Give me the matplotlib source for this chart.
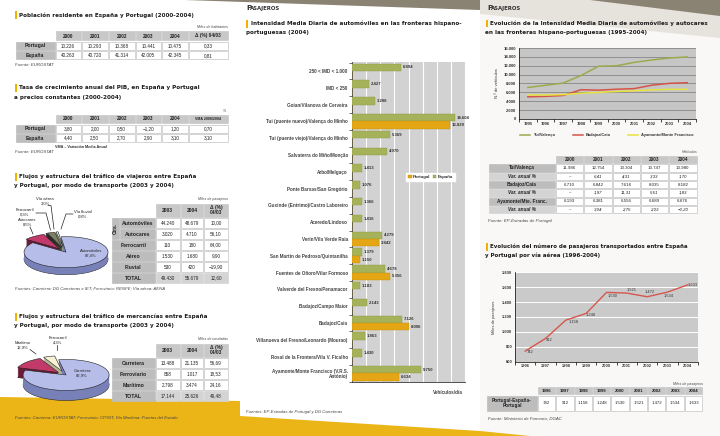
import numpy as np
import matplotlib.pyplot as plt
from matplotlib.patches import Rectangle, Polygon
from matplotlib.ticker import FuncFormatter

plt.rcParams['font.family'] = ['Liberation Sans', 'DejaVu Sans']

W, H = 720, 436

# ---------------- datos ----------------
anios_pob = ['2000', '2001', '2002', '2003', '2004']
pob_portugal = [10226, 10293, 10368, 10441, 10475]
pob_espana = [40263, 40720, 41314, 42005, 42345]
pob_var = [0.33, 0.81]

pib_portugal = [3.80, 2.00, 0.50, -1.20, 1.20]
pib_espana = [4.40, 2.50, 2.70, 2.90, 3.10]
pib_vma = [0.70, 3.10]

viaj_modos = ['Automóviles', 'Autocares', 'Ferrocarril', 'Aéreo', 'Fluvial']
viaj_2003 = [44240, 3020, 110, 1530, 530]
viaj_2004 = [48679, 4710, 180, 1680, 420]
viaj_var = [10.00, 56.10, 64.00, 9.90, -19.90]
viaj_total = [49430, 55679, 12.60]
viaj_pie_lab = ['Automóviles', 'Autocares', 'Ferrocarril', 'Vía aérea', 'Vía fluvial']
viaj_pie_pct = [87.4, 8.5, 0.3, 3.0, 0.8]

merc_modos = ['Carretera', 'Ferroviario', 'Marítimo']
merc_2003 = [13488, 858, 2798]
merc_2004 = [21135, 1017, 3474]
merc_var = [56.69, 18.53, 24.16]
merc_total = [17144, 25626, 49.48]
merc_pie_lab = ['Carretera', 'Marítimo', 'Ferrocarril']
merc_pie_pct = [82.9, 12.9, 4.3]

imd_pasos = ['250 < IMD < 1.000', 'IMD < 250', 'Goian/Vilanova de Cerveira',
             'Tui (puente nuevo)/Valença do Minho', 'Tui (puente viejo)/Valença do Minho',
             'Salvaterra do Miño/Monção', 'Arbo/Melgaço', 'Ponte Barxas/San Gregório',
             'Guxinde (Entrimo)/Castro Laboreiro', 'Aceredo/Lindoso', 'Verín/Vila Verde Raia',
             'San Martín de Pedroso/Quintanilha', 'Fuentes de Oñoro/Vilar Formoso',
             'Valverde del Fresno/Penamacor', 'Badajoz/Campo Maior', 'Badajoz/Caia',
             'Villanueva del Fresno/Leonardo (Mourao)', 'Rosal de la Frontera/Vila V. Ficalho',
             'Ayamonte/Monte Francisco (V.R.S.\nAntónio)']
imd_espana = [6894, 2427, 3208, 14604, 5369, 4970, 1413, 1076, 1366, 1416, 4279, 1379,
              4678, 1183, 2143, 7126, 1863, 1430, 9750]
imd_portugal = [0, 0, 0, 13829, 0, 0, 0, 0, 0, 0, 3842, 1150, 5356, 0, 0, 8096, 0, 0, 6634]

evo_anios = ['1995', '1996', '1997', '1998', '1999', '2000', '2001', '2002', '2003', '2004']
evo_tui = [7100, 7600, 8100, 9800, 11900, 11986, 12754, 13304, 13747, 13980]
evo_badajoz = [5000, 5100, 5300, 6600, 6500, 6710, 6842, 7616, 8035, 8182]
evo_ayamonte = [5400, 5400, 5500, 5800, 6000, 6193, 6381, 6556, 6689, 6676]

tab_anios = ['2000', '2001', '2002', '2003', '2004']
tab_tui_var = [None, 6.41, 4.31, 3.33, 1.70]
tab_bad_var = [None, 1.97, 11.31, 5.51, 1.83]
tab_aya_var = [None, 3.04, 2.75, 2.03, -0.20]

aer_anios = ['1996', '1997', '1998', '1999', '2000', '2001', '2002', '2003', '2004']
aer_pasajeros = [742, 912, 1158, 1248, 1530, 1521, 1472, 1534, 1633]


def es(v, dec=0):
    if v is None:
        return '–'
    s = f'{abs(v):,.{dec}f}'.replace(',', 'X').replace('.', ',').replace('X', '.')
    return ('−' if v < 0 else '') + s


fig = plt.figure(figsize=(7.2, 4.36), dpi=100)
bg = fig.add_axes([0, 0, 1, 1], zorder=0)
bg.set_xlim(0, W); bg.set_ylim(H, 0); bg.axis('off')
ov = fig.add_axes([0, 0, 1, 1], zorder=5)
ov.set_xlim(0, W); ov.set_ylim(H, 0); ov.axis('off')
ov.patch.set_alpha(0)
rend = fig.canvas.get_renderer()


def px_axes(x0, y0, x1, y1, z=2):
    return fig.add_axes([x0 / W, 1 - y1 / H, (x1 - x0) / W, (y1 - y0) / H], zorder=z)


# decoracion de fondo
bg.add_patch(Rectangle((480, 0), 240, 436, color='#f9f8f6', lw=0))
bg.add_patch(Polygon([(480, 0), (720, 0), (720, 38), (480, 14)], color='#e6e3dc', lw=0))
bg.add_patch(Polygon([(185, 0), (480, 0), (480, 10)], color='#8a8272', lw=0))
bg.add_patch(Polygon([(590, 0), (720, 0), (720, 16)], color='#8a8272', lw=0))
bg.add_patch(Polygon([(0, 397), (240, 401), (240, 436), (0, 436)], color='#ebb417', lw=0))
bg.add_patch(Polygon([(240, 416), (480, 431), (530, 436), (240, 436)], color='#ebb417', lw=0))
bg.add_patch(Polygon([(480, 432), (520, 436), (480, 436)], color='#ebb417', lw=0))


def titulo(x, y, lineas, ancho):
    ov.add_patch(Rectangle((x - 4.5, y - 3.5), 2, 7.5, color='#f0b400', lw=0))
    t = ov.text(x, y, lineas[0], fontsize=4.5, fontweight='bold', family='DejaVu Sans',
                va='center', color='#1c1c1c')
    fs = 4.5 * ancho / t.get_window_extent(rend).width
    t.set_fontsize(fs)
    for i, s in enumerate(lineas[1:]):
        ov.text(x - 5, y + 9 * (i + 1), s, fontsize=fs, fontweight='bold',
                family='DejaVu Sans', va='center', color='#1c1c1c')


def pasajeros(x, y):
    ov.text(x, y, 'P', fontsize=5.2, fontweight='bold', family='DejaVu Sans', va='center', color='#333')
    ov.text(x + 4.3, y + 0.3, 'ASAJEROS', fontsize=3.9, fontweight='bold', family='DejaVu Sans',
            va='center', color='#333')


def nota(x, y, s, ha='left', fs=3.2):
    ov.text(x, y, s, fontsize=fs, style='italic', ha=ha, va='center', color='#444')


ESTILOS = {'head': ('#c8c8c8', '#c8c8c8'), 'lab': ('#bdbdbd', '#bdbdbd'),
           'lab2': ('#d4d4d4', '#d4d4d4'), 'dat': ('white', '#c4c4c4')}


def celda(x0, y0, x1, y1, txt, kind='dat', fs=3.3, bold=False, italic=False):
    fc, ec = ESTILOS[kind]
    ov.add_patch(Rectangle((x0 + 0.5, y0 + 0.5), x1 - x0 - 1, y1 - y0 - 1, fc=fc, ec=ec, lw=0.5))
    ov.text((x0 + x1) / 2, (y0 + y1) / 2, txt, ha='center', va='center', fontsize=fs,
            fontweight='bold' if bold else 'normal', style='italic' if italic else 'normal',
            color='#222', linespacing=1.0)


# ---------- panel 1: poblacion ----------
titulo(19, 15, ['Población residente en España y Portugal (2000-2004)'], 171)
nota(228, 27, 'Miles de habitantes', ha='right', fs=2.6)
cols = [55, 81.3, 108.3, 135, 161.7, 188.3, 228.3]
heads = anios_pob + ['Δ (%) 04/03']
rows = [(31, 41), (41.5, 50.5), (50.8, 59.8)]
for i in range(6):
    celda(cols[i], rows[0][0], cols[i + 1], rows[0][1], heads[i], 'head', fs=3.4, bold=True)
for r, (nom, vals, var) in enumerate([('Portugal', pob_portugal, pob_var[0]),
                                       ('España', pob_espana, pob_var[1])]):
    y0, y1 = rows[r + 1]
    celda(15, y0, 55, y1, nom, 'lab', fs=3.7, bold=True)
    for i, v in enumerate(vals):
        celda(cols[i], y0, cols[i + 1], y1, es(v))
    celda(cols[5], y0, cols[6], y1, es(var, 2))
nota(15, 65, 'Fuente: EUROSTAT')

# ---------- panel 2: PIB ----------
titulo(19, 88, ['Tasa de crecimiento anual del PIB, en España y Portugal',
                'a precios constantes (2000-2004)'], 178)
nota(226, 111, '%', ha='right', fs=2.6)
rows = [(114.3, 123.6), (124, 133), (133.5, 142.7)]
heads = anios_pob + ['VMA 2000/2004']
for i in range(6):
    celda(cols[i], rows[0][0], cols[i + 1], rows[0][1], heads[i], 'head',
          fs=3.4 if i < 5 else 2.6, bold=True)
for r, (nom, vals, vma) in enumerate([('Portugal', pib_portugal, pib_vma[0]),
                                       ('España', pib_espana, pib_vma[1])]):
    y0, y1 = rows[r + 1]
    celda(15, y0, 55, y1, nom, 'lab', fs=3.7, bold=True)
    for i, v in enumerate(vals):
        celda(cols[i], y0, cols[i + 1], y1, es(v, 2))
    celda(cols[5], y0, cols[6], y1, es(vma, 2))
ov.text(55, 146.7, 'VMA – Variación Media Anual', fontsize=2.7, fontweight='bold', va='center', color='#333')
nota(15, 152, 'Fuente: EUROSTAT')


# ---------- pie 3D ----------
def pie3d(box, vals, tops, sides, start, explode, depth):
    x0, y0, x1, y1 = box
    rx, ry = (x1 - x0) / 2, (y1 - y0) / 2
    pad = 10
    ax = px_axes(x0 - pad, y0 - pad, x1 + pad, y1 + depth + pad, z=2)
    n = 14
    for k in range(n, 0, -1):
        ax.pie(vals, colors=sides, startangle=start, counterclock=False, explode=explode,
               center=(0, -depth / ry * k / n),
               wedgeprops=dict(lw=0.4 if k == n else 0, ec='#222'))
    ax.pie(vals, colors=tops, startangle=start, counterclock=False, explode=explode,
           wedgeprops=dict(lw=0.4, ec='#222'))
    ax.set_aspect('auto')
    ax.set_xlim(-1 - pad / rx, 1 + pad / rx)
    ax.set_ylim(-1 - (depth + pad) / ry, 1 + pad / ry)
    ax.axis('off')


# ---------- panel 3: viajeros ----------
titulo(19, 176.7, ['Flujos y estructura del tráfico de viajeros entre España',
                   'y Portugal, por modo de transporte (2003 y 2004)'], 177)
nota(228, 199, 'Miles de pasajeros', ha='right', fs=2.6)
dc = [155, 180.5, 203.7, 228.3]
celda(dc[0], 203.3, dc[1], 217.3, '2003', 'head', fs=3.5, bold=True)
celda(dc[1], 203.3, dc[2], 217.3, '2004', 'head', fs=3.5, bold=True)
celda(dc[2], 203.3, dc[3], 217.3, 'Δ (%)\n04/03', 'head', fs=3.5, bold=True)
vrows = [(217.5, 228.5), (228.5, 239.5), (239.5, 250.5), (250.5, 261.5), (261.5, 272.5), (272.5, 283.5)]
celda(111.7, vrows[0][0], 119.3, vrows[1][1], '', 'lab')
ov.text(115.5, (vrows[0][0] + vrows[1][1]) / 2, 'Ctra.', rotation=90, fontsize=3.4, fontweight='bold',
        ha='center', va='center', color='#222')
for r in range(5):
    y0, y1 = vrows[r]
    lx = 119.3 if r < 2 else 111.7
    celda(lx, y0, dc[0], y1, viaj_modos[r], 'lab', fs=3.7, bold=True)
    celda(dc[0], y0, dc[1], y1, es(viaj_2003[r]))
    celda(dc[1], y0, dc[2], y1, es(viaj_2004[r]))
    celda(dc[2], y0, dc[3], y1, es(viaj_var[r], 2))
y0, y1 = vrows[5]
celda(111.7, y0, dc[0], y1, 'TOTAL', 'lab', fs=3.8, bold=True)
celda(dc[0], y0, dc[1], y1, es(viaj_total[0]), 'lab2')
celda(dc[1], y0, dc[2], y1, es(viaj_total[1]), 'lab2')
celda(dc[2], y0, dc[3], y1, es(viaj_total[2], 2), 'lab2')

pie3d((23, 236, 107, 267), viaj_pie_pct,
      ['#b6bde8', '#c23a6a', '#3a3a3a', '#7d7f66', '#e6f2dc'],
      ['#7880b8', '#6a1a36', '#222222', '#4c4d3c', '#9aa890'],
      97, [0.05, 0.22, 0.24, 0.26, 0.28], 7)
pie_txt = {'Vía aérea': (45, 201, [48, 51, 54], [205.5, 205.5, 229]),
           'Ferrocarril': (25, 212, [36, 46, 50.5], [213, 213, 230]),
           'Autocares': (27, 222.5, [30, 33], [227, 234]),
           'Vía fluvial': (83, 214, [73, 66, 61], [214, 214, 229])}
for lab, pct in zip(viaj_pie_lab, viaj_pie_pct):
    txt = f'{lab}\n{es(pct, 1)}%'
    if lab in pie_txt:
        tx, ty, lx, ly = pie_txt[lab]
        ov.plot(lx, ly, color='#222', lw=0.5)
    else:
        tx, ty = 91, 253
    ov.text(tx, ty, txt, fontsize=3.0, ha='center', va='center', color='#222', linespacing=1.1)
nota(15, 289, 'Fuentes: Carretera: DG Carreteras e IET; Ferroviario: RENFE; Vía aérea: AENA', fs=3.1)

# ---------- panel 4: mercancias ----------
titulo(19, 316.7, ['Flujos y estructura del tráfico de mercancías entre España',
                   'y Portugal, por modo de transporte (2003 y 2004)'], 184)
nota(228, 339.3, 'Miles de toneladas', ha='right', fs=2.6)
celda(dc[0], 343.3, dc[1], 357.3, '2003', 'head', fs=3.5, bold=True)
celda(dc[1], 343.3, dc[2], 357.3, '2004', 'head', fs=3.5, bold=True)
celda(dc[2], 343.3, dc[3], 357.3, 'Δ (%)\n04/03', 'head', fs=3.5, bold=True)
mrows = [(357.5, 368.5), (368.5, 379.5), (379.5, 390.5), (390.5, 401.5)]
for r in range(3):
    y0, y1 = mrows[r]
    celda(111.7, y0, dc[0], y1, merc_modos[r], 'lab', fs=3.7, bold=True)
    celda(dc[0], y0, dc[1], y1, es(merc_2003[r]))
    celda(dc[1], y0, dc[2], y1, es(merc_2004[r]))
    celda(dc[2], y0, dc[3], y1, es(merc_var[r], 2))
y0, y1 = mrows[3]
celda(111.7, y0, dc[0], y1, 'TOTAL', 'lab', fs=3.8, bold=True)
celda(dc[0], y0, dc[1], y1, es(merc_total[0]), 'lab2')
celda(dc[1], y0, dc[2], y1, es(merc_total[1]), 'lab2')
celda(dc[2], y0, dc[3], y1, es(merc_total[2], 2), 'lab2')

pie3d((22, 359, 108, 390), merc_pie_pct,
      ['#b6bde8', '#c23a6a', '#f6f2d2'],
      ['#7880b8', '#6a1a36', '#b8b498'],
      100, [0.04, 0.2, 0.22], 10)
mtxt = {'Marítimo': (23, 345, [30, 36], [349.5, 354]),
        'Ferrocarril': (58, 340.5, [57, 57], [345, 350])}
for lab, pct in zip(merc_pie_lab, merc_pie_pct):
    txt = f'{lab}\n{es(pct, 1)}%'
    if lab in mtxt:
        tx, ty, lx, ly = mtxt[lab]
        ov.plot(lx, ly, color='#222', lw=0.5)
    else:
        tx, ty = 82, 373
    ov.text(tx, ty, txt, fontsize=3.0, ha='center', va='center', color='#222', linespacing=1.1)
nota(15, 418, 'Fuentes: Carretera: EUROSTAT; Ferroviario: CP/SIT; Vía Marítima: Puertos del Estado', fs=3.1)

# ---------- panel central: IMD ----------
pasajeros(246, 8)
titulo(250.7, 23.7, ['Intensidad Media Diaria de automóviles en las fronteras hispano-',
                     'portuguesas (2004)'], 206)
ax = px_axes(352, 62, 465, 382)
ypos = np.arange(len(imd_pasos))
h = 0.44
ax.barh(ypos - h / 2, imd_espana, height=h, color='#a6b25a', edgecolor='#8c9a44', lw=0.3,
        label='España', zorder=3)
ax.barh(ypos + h / 2, imd_portugal, height=h, color='#e4a614', edgecolor='#c98f0a', lw=0.3,
        label='Portugal', zorder=3)
for y, v in zip(ypos, imd_espana):
    ax.text(v + 250, y - h / 2, es(v), fontsize=3.1, fontweight='bold', va='center', color='#333', zorder=4)
for y, v in zip(ypos, imd_portugal):
    if v:
        ax.text(v + 250, y + h / 2, es(v), fontsize=3.1, fontweight='bold', va='center', color='#333', zorder=4)
ax.set_xlim(0, 16000)
ax.set_ylim(len(imd_pasos) - 0.49, -0.536)
ax.set_facecolor('#d2d2d2')
ax.set_xticks(range(0, 16001, 2000))
ax.grid(axis='x', color='white', lw=0.8, zorder=0)
ax.tick_params(axis='x', length=0, labelbottom=False)
ax.set_yticks(ypos)
ax.set_yticklabels(imd_pasos, fontsize=3.3, fontweight='bold', color='#444', linespacing=1.1)
ax.tick_params(axis='y', length=0, pad=3)
ax.set_yticks(np.arange(len(imd_pasos) + 1) - 0.5, minor=True)
ax.tick_params(axis='y', which='minor', length=2, width=0.5, color='#333')
for s in ['top', 'right']:
    ax.spines[s].set_visible(False)
for s in ['left', 'bottom']:
    ax.spines[s].set_color('#333')
    ax.spines[s].set_linewidth(0.6)
hnd, lab = ax.get_legend_handles_labels()
leg = ax.legend(hnd[::-1], lab[::-1], loc='center left', bbox_to_anchor=(0.46, 0.64), ncol=2,
                fontsize=3.2, handlelength=0.7, handleheight=0.7, columnspacing=0.6, handletextpad=0.3,
                borderpad=0.5, fancybox=False, framealpha=1, edgecolor='white')
for t in leg.get_texts():
    t.set_fontweight('bold')
    t.set_color('#333')
ov.text(463, 392, 'Vehículos/día', fontsize=3.3, fontweight='bold', ha='right', va='center', color='#444')
nota(246, 412, 'Fuentes: EP-Estradas de Portugal y DG Carreteras', fs=3.1)

# ---------- columna derecha: evolucion IMD ----------
pasajeros(487, 8)
titulo(490, 23.3, ['Evolución de la Intensidad Media Diaria de automóviles y autocares',
                   'en las fronteras hispano-portuguesas (1995-2004)'], 214)
ax2 = px_axes(519, 48, 696, 119)
xs = np.arange(len(evo_anios))
series = [(evo_tui, '#9aab4c', 'Tui/Valença'), (evo_badajoz, '#d4544a', 'Badajoz/Caia'),
          (evo_ayamonte, '#e8e23e', 'Ayamonte/Monte Francisco')]
for vals, c, lab in series:
    ax2.plot(xs, vals, color=c, lw=1.1, zorder=3)
ax2.set_xlim(-0.5, len(evo_anios) - 0.5)
ax2.set_ylim(0, 16000)
ax2.set_yticks(range(0, 16001, 2000))
ax2.yaxis.set_major_formatter(FuncFormatter(lambda v, p: es(v)))
ax2.set_xticks(xs)
ax2.set_xticklabels(evo_anios)
ax2.set_xticks(np.arange(len(evo_anios) + 1) - 0.5, minor=True)
ax2.tick_params(labelsize=3.0, length=0, pad=2, colors='#333')
ax2.tick_params(axis='x', which='minor', length=2, width=0.5)
for t in ax2.get_xticklabels() + ax2.get_yticklabels():
    t.set_fontweight('bold')
ax2.set_facecolor('#c6c6c6')
ax2.grid(axis='y', color='#7a7a7a', lw=0.5, zorder=0)
for s in ['top', 'right']:
    ax2.spines[s].set_visible(False)
for s in ['left', 'bottom']:
    ax2.spines[s].set_linewidth(0.5)
ax2.set_ylabel('N.º de vehículos', fontsize=3.0, labelpad=3, color='#333')
for (vals, c, lab), lx in zip(series, [520, 573, 628]):
    ov.plot([lx, lx + 10], [135, 135], color=c, lw=1.1)
    ov.text(lx + 13, 135, lab, fontsize=2.9, fontweight='bold', va='center', color='#333')

# tabla evolucion
nota(697, 152, 'Vehículos', ha='right', fs=2.6)
tc = [488, 555.5, 583.8, 612, 640.3, 668.6, 697]
for i, a in enumerate(tab_anios):
    celda(tc[i + 1], 155.5, tc[i + 2], 163.5, a, 'head', fs=3.3, bold=True)
tab_filas = [('Tui/Valença', evo_tui[5:], False), ('Var. anual %', tab_tui_var, True),
             ('Badajoz/Caia', evo_badajoz[5:], False), ('Var. anual %', tab_bad_var, True),
             ('Ayamonte/Mte. Franc.', evo_ayamonte[5:], False), ('Var. anual %', tab_aya_var, True)]
for r, (nom, vals, esvar) in enumerate(tab_filas):
    y0 = 163.8 + r * 8.3
    y1 = y0 + 8.3
    celda(tc[0], y0, tc[1], y1, nom, 'lab2' if esvar else 'lab', fs=3.4, bold=True, italic=esvar)
    for i, v in enumerate(vals):
        celda(tc[i + 1], y0, tc[i + 2], y1, es(v, 2) if esvar else es(v), fs=3.2, italic=esvar)
nota(488, 221, 'Fuente: EP-Estradas de Portugal')

# ---------- columna derecha: via aerea ----------
titulo(490, 246.7, ['Evolución del número de pasajeros transportados entre España',
                    'y Portugal por vía aérea (1996-2004)'], 199)
ax3 = px_axes(515, 272.3, 698, 361.7)
xa = np.arange(len(aer_anios))
ax3.plot(xa, aer_pasajeros, color='#d4574c', lw=1.0, zorder=3)
offs = [(5, 1), (4, 1.5), (8, 1.6), (5, 2), (6, 4), (5, -3), (3, -4.4), (1, 4), (5, 0)]
for x, v, (dx, dy) in zip(xa, aer_pasajeros, offs):
    ax3.annotate(es(v), (x, v), xytext=(dx * 0.72, -dy * 0.72), textcoords='offset points',
                 fontsize=2.9, ha='center', va='center', color='#333', zorder=4)
ax3.set_xlim(-0.5, len(aer_anios) - 0.5)
ax3.set_ylim(600, 1800)
ax3.set_yticks(range(600, 1801, 200))
ax3.yaxis.set_major_formatter(FuncFormatter(lambda v, p: es(v)))
ax3.set_xticks(xa)
ax3.set_xticklabels(aer_anios)
ax3.set_xticks(np.arange(len(aer_anios) + 1) - 0.5, minor=True)
ax3.tick_params(labelsize=2.9, length=0, pad=2, colors='#333')
ax3.tick_params(axis='x', which='minor', length=2, width=0.5)
for t in ax3.get_xticklabels() + ax3.get_yticklabels():
    t.set_fontweight('bold')
ax3.set_facecolor('#cacaca')
ax3.grid(axis='y', color='white', lw=0.7, zorder=0)
for s in ['top', 'right']:
    ax3.spines[s].set_visible(False)
for s in ['left', 'bottom']:
    ax3.spines[s].set_linewidth(0.5)
ax3.set_ylabel('Miles de pasajeros', fontsize=2.9, labelpad=4, color='#333')

nota(702.7, 384, 'Miles de pasajeros', ha='right', fs=2.6)
ac = np.linspace(537.3, 702.7, len(aer_anios) + 1)
for i, a in enumerate(aer_anios):
    celda(ac[i], 386.5, ac[i + 1], 394.8, a, 'head', fs=3.2, bold=True)
    celda(ac[i], 395, ac[i + 1], 411.7, es(aer_pasajeros[i]), fs=3.1)
celda(486.7, 395, 537.3, 411.7, 'Portugal-España-\nPortugal', 'lab', fs=3.4, bold=True)
nota(488, 419, 'Fuente: Ministerio de Fomento, DGAC')

fig.savefig('out.png', dpi=100)
